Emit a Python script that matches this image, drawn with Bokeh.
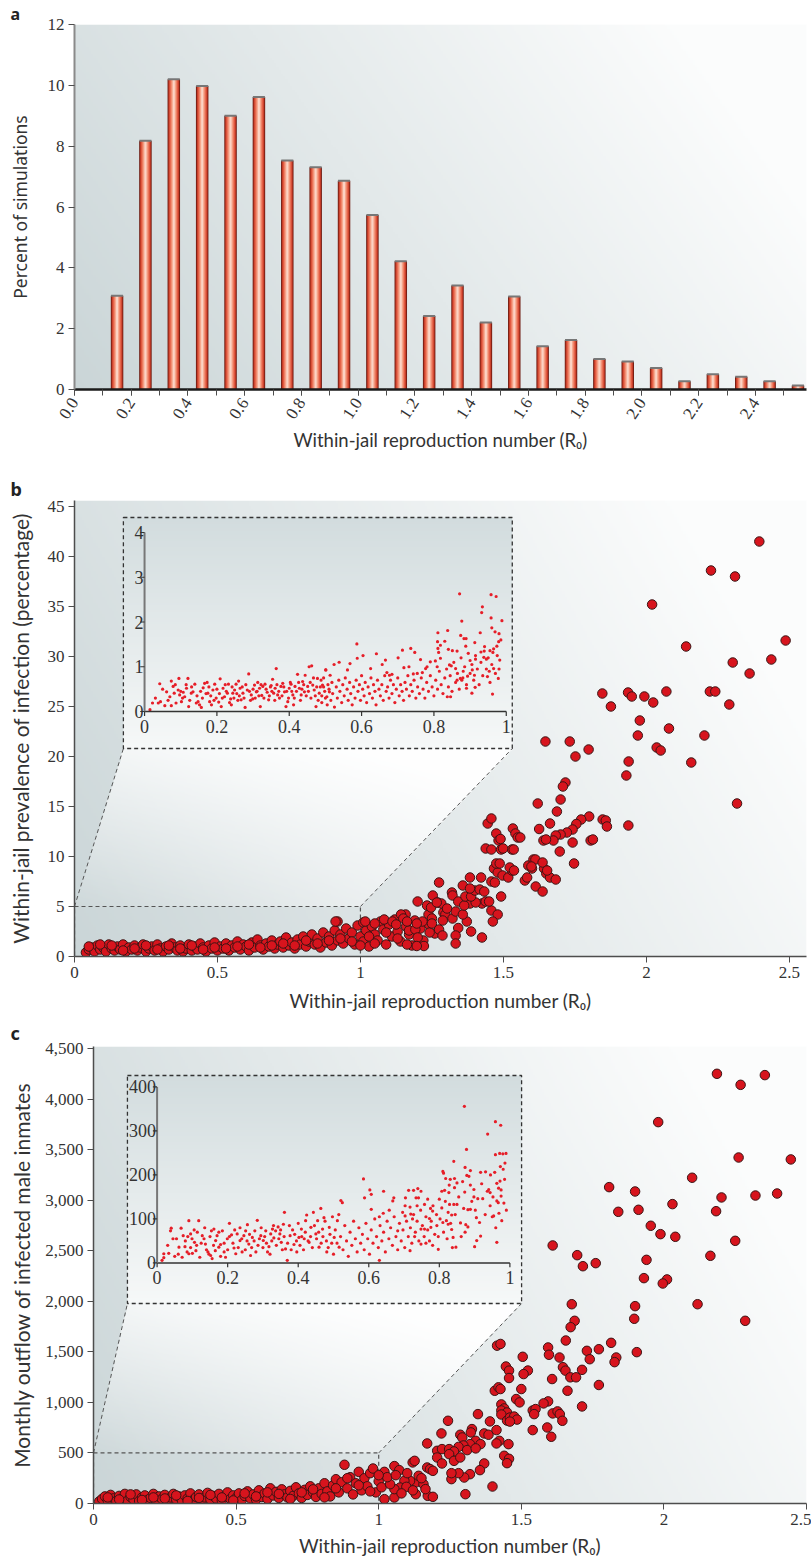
import numpy as np
from bokeh.plotting import figure
from bokeh.layouts import column
from bokeh.models import Range1d, FixedTicker, Title, NumeralTickFormatter
from bokeh.core.properties import value
from bokeh.embed import file_html
from bokeh.resources import INLINE

# ---------------- data ----------------
hist_r0 = [0.15, 0.25, 0.35, 0.45, 0.55, 0.65, 0.75, 0.85, 0.95, 1.05, 1.15, 1.25, 1.35,
           1.45, 1.55, 1.65, 1.75, 1.85, 1.95, 2.05, 2.15, 2.25, 2.35, 2.45, 2.55]
hist_pct = [3.08, 8.18, 10.2, 9.98, 9.0, 9.62, 7.53, 7.31, 6.86, 5.74, 4.22, 2.42, 3.42,
            2.2, 3.06, 1.42, 1.63, 1.0, 0.92, 0.71, 0.27, 0.5, 0.42, 0.27, 0.13]
a_xticks = [0.0, 0.2, 0.4, 0.6, 0.8, 1.0, 1.2, 1.4, 1.6, 1.8, 2.0, 2.2, 2.4]
a_xtick_labels = ["0.0", "0.2", "0.4", "0.6", "0.8", "1.0", "1.2", "1.4", "1.6", "1.8", "2.0", "2.2", "2.4"]
a_yticks = [0, 2, 4, 6, 8, 10, 12]

r0_ticks = [0, 0.5, 1, 1.5, 2, 2.5]
r0_tick_labels = ["0", "0.5", "1", "1.5", "2", "2.5"]
b_yticks = [0, 5, 10, 15, 20, 25, 30, 35, 40, 45]
c_yticks = [0, 500, 1000, 1500, 2000, 2500, 3000, 3500, 4000, 4500]
inset_xticks = [0, 0.2, 0.4, 0.6, 0.8, 1]
inset_xtick_labels = ["0", "0.2", "0.4", "0.6", "0.8", "1"]
b_inset_yticks = [0, 1, 2, 3, 4]
c_inset_yticks = [0, 100, 200, 300, 400]

# panel b, main scatter: (R0, prevalence %)
b_main_pts = [
    (0.04, 0.4), (0.05, 0.7), (0.06, 0.9), (0.07, 0.5), (0.08, 1.1), (0.09, 0.7), (0.10, 0.9), (0.11, 0.5), (0.12, 1.2), (0.13, 0.8),
    (0.14, 0.6), (0.15, 1.0), (0.16, 0.7), (0.17, 1.2), (0.18, 0.5), (0.19, 0.9), (0.20, 0.7), (0.21, 1.1), (0.22, 0.6), (0.23, 0.9),
    (0.24, 1.2), (0.25, 0.5), (0.26, 0.8), (0.27, 1.0), (0.28, 0.6), (0.29, 1.2), (0.30, 0.8), (0.31, 0.5), (0.32, 1.0), (0.33, 0.7),
    (0.34, 1.3), (0.35, 0.9), (0.36, 0.6), (0.37, 1.1), (0.38, 0.5), (0.39, 0.8), (0.40, 1.2), (0.41, 0.6), (0.42, 1.0), (0.43, 0.7),
    (0.44, 1.3), (0.45, 0.9), (0.46, 0.5), (0.47, 1.1), (0.48, 0.8), (0.49, 1.4), (0.50, 0.6), (0.51, 1.0), (0.52, 0.8), (0.53, 1.3),
    (0.54, 0.6), (0.55, 1.1), (0.56, 0.9), (0.57, 1.5), (0.58, 0.7), (0.59, 1.2), (0.60, 1.0), (0.61, 0.6), (0.62, 1.4), (0.63, 0.9),
    (0.64, 1.7), (0.65, 1.1), (0.66, 0.7), (0.67, 1.3), (0.68, 1.0), (0.69, 1.6), (0.70, 0.8), (0.71, 1.2), (0.72, 1.5), (0.73, 0.9),
    (0.74, 1.9), (0.75, 1.1), (0.76, 1.4), (0.77, 0.8), (0.78, 1.7), (0.79, 1.2), (0.80, 2.0), (0.81, 1.0), (0.82, 1.5), (0.83, 2.2),
    (0.84, 1.2), (0.85, 1.8), (0.86, 0.9), (0.87, 2.4), (0.88, 1.4), (0.89, 2.0), (0.90, 1.1), (0.91, 2.6), (0.92, 3.5), (0.92, 1.6),
    (0.93, 2.2), (0.94, 1.3), (0.95, 2.8), (0.96, 1.8), (0.97, 2.4), (0.98, 1.2), (0.99, 3.1), (1.00, 2.0), (1.01, 1.5), (1.01, 3.4),
    (1.02, 2.6), (1.03, 1.0), (1.04, 3.0), (1.05, 2.2), (1.06, 1.6), (1.07, 3.5), (1.08, 2.7), (1.09, 1.2), (1.10, 3.2), (1.11, 2.0),
    (1.12, 3.7), (1.13, 2.5), (1.14, 1.5), (1.15, 4.1), (1.16, 3.0), (1.17, 2.2), (1.18, 1.1), (1.19, 3.6), (1.21, 2.8), (1.22, 1.6),
    (1.24, 3.2), (1.26, 2.3), (1.27, 5.4), (1.29, 4.4),
    (0.05, 1.0), (0.09, 1.2), (0.13, 1.1), (0.17, 0.6), (0.21, 0.8), (0.25, 1.1), (0.29, 0.7), (0.33, 1.1), (0.37, 0.8), (0.41, 1.1),
    (0.45, 0.7), (0.49, 0.9), (0.53, 0.8), (0.57, 1.0), (0.61, 1.2), (0.65, 0.9), (0.69, 1.1), (0.73, 1.3), (0.77, 1.1), (0.81, 1.6),
    (0.85, 1.3), (0.89, 1.6), (0.93, 1.8), (0.97, 1.5), (1.00, 1.1), (1.03, 2.0), (1.05, 1.3), (1.09, 2.4), (1.13, 1.8), (1.17, 2.6),
    (1.158, 4.2), (1.142, 4.2), (1.15, 3.8), (1.163, 3.5), (1.192, 2.7), (1.20, 1.9), (1.222, 1.05), (1.197, 1.05), (1.163, 1.2), (1.242, 2.4),
    (1.017, 3.5), (1.05, 3.3), (1.083, 3.7), (1.112, 3.5), (1.125, 3.2), (0.913, 3.5), (1.238, 4.2), (1.25, 3.8), (1.217, 3.5), (1.197, 3.3),
    (1.25, 3.3), (1.275, 2.7), (1.287, 2.1), (1.342, 2.85), (1.333, 2.1), (1.387, 2.5), (1.425, 1.9), (1.333, 1.3), (1.297, 4.2), (1.288, 3.6),
    (1.322, 3.8), (1.372, 3.5), (1.333, 4.5), (1.358, 4.2), (1.458, 4.6), (1.48, 4.2), (1.463, 3.5), (1.492, 6.0), (1.425, 5.3), (1.383, 5.3),
    (1.403, 5.4), (1.438, 5.5), (1.45, 5.5), (1.283, 5.3), (1.303, 4.8), (1.233, 5.1), (1.247, 4.9), (1.20, 5.5), (1.253, 6.1), (1.267, 5.4),
    (1.32, 6.4), (1.322, 6.1), (1.342, 5.5), (1.363, 5.1), (1.367, 6.0), (1.387, 6.0), (1.40, 6.6), (1.417, 6.7), (1.433, 6.5), (1.458, 7.5),
    (1.47, 7.4), (1.358, 7.1), (1.383, 6.8), (1.275, 7.4), (1.383, 7.9), (1.422, 7.9), (1.467, 8.8), (1.48, 8.4), (1.497, 8.1), (1.517, 7.9),
    (1.53, 8.6), (1.475, 9.3), (1.487, 9.3), (1.587, 9.1), (1.60, 8.8), (1.605, 9.7), (1.575, 7.6), (1.583, 7.9), (1.613, 7.0), (1.637, 6.5),
    (1.642, 8.8), (1.65, 8.3), (1.663, 7.9), (1.683, 7.7), (1.438, 10.8), (1.458, 10.7), (1.492, 10.7), (1.53, 10.7), (1.475, 12.3), (1.483, 11.6),
    (1.533, 12.8), (1.542, 12.3), (1.55, 11.9), (1.445, 13.3), (1.458, 13.8), (1.697, 10.5), (1.747, 9.3), (1.742, 11.4), (1.805, 11.6), (1.80, 14.0),
    (1.772, 13.7), (1.755, 13.25), (1.742, 12.7), (1.722, 12.4), (1.70, 12.2), (1.683, 12.1), (1.847, 13.7), (1.858, 13.6), (1.862, 13.0), (1.62, 15.3),
    (1.687, 14.5), (1.663, 13.3), (1.625, 12.75), (1.64, 11.6), (1.675, 11.6), (1.717, 17.4), (1.708, 17.0), (1.70, 15.7), (1.93, 18.1), (2.317, 15.3),
    (1.937, 13.1), (2.395, 41.5), (2.226, 38.6), (2.31, 38.0), (2.02, 35.2), (2.139, 31.0), (2.487, 31.6), (2.302, 29.4), (2.437, 29.7), (2.361, 28.3),
    (1.846, 26.3), (1.936, 26.4), (1.949, 26.0), (1.993, 26.0), (2.024, 25.4), (2.07, 26.5), (2.222, 26.5), (2.241, 26.5), (1.876, 25.0), (2.29, 25.2),
    (1.977, 23.6), (2.079, 22.8), (1.97, 22.1), (2.203, 22.1), (2.036, 20.9), (2.05, 20.6), (1.938, 19.5), (2.157, 19.4), (1.647, 21.5), (1.732, 21.5),
    (1.798, 20.7), (1.752, 20.0), (1.499, 10.8), (1.49, 11.75), (1.536, 10.7), (1.522, 8.9), (1.537, 8.6), (1.612, 9.7), (1.598, 9.0), (1.637, 9.4),
    (1.653, 8.6), (1.813, 11.7), (1.649, 11.7), (1.559, 11.9),
]

# panel b, inset (R0 < 1): (R0, prevalence %)
b_inset_pts = [
    (0.015, 0.04), (0.022, 0.19), (0.038, 0.19), (0.044, 0.22), (0.042, 0.62), (0.056, 0.13), (0.061, 0.44), (0.07, 0.33), (0.074, 0.13), (0.074, 0.68),
    (0.079, 0.56), (0.082, 0.41), (0.087, 0.19), (0.095, 0.74), (0.093, 0.48), (0.097, 0.37), (0.102, 0.22), (0.107, 0.43), (0.111, 0.33), (0.116, 0.52),
    (0.12, 0.74), (0.122, 0.11), (0.129, 0.41), (0.134, 0.44), (0.139, 0.61), (0.143, 0.19), (0.148, 0.22), (0.152, 0.15), (0.157, 0.09), (0.162, 0.53),
    (0.166, 0.63), (0.173, 0.65), (0.175, 0.41), (0.18, 0.22), (0.185, 0.15), (0.189, 0.48), (0.194, 0.61), (0.198, 0.30), (0.205, 0.21), (0.209, 0.73),
    (0.212, 0.11), (0.217, 0.52), (0.221, 0.33), (0.229, 0.41), (0.232, 0.61), (0.238, 0.28), (0.24, 0.15), (0.244, 0.41), (0.249, 0.48), (0.253, 0.61),
    (0.26, 0.68), (0.264, 0.52), (0.267, 0.26), (0.272, 0.41), (0.278, 0.09), (0.284, 0.48), (0.288, 0.84), (0.295, 0.37), (0.299, 0.28), (0.304, 0.59),
    (0.309, 0.44), (0.313, 0.65), (0.318, 0.52), (0.32, 0.11), (0.324, 0.36), (0.327, 0.56), (0.333, 0.61), (0.339, 0.43), (0.343, 0.26), (0.35, 0.58),
    (0.354, 0.72), (0.357, 0.41), (0.361, 0.52), (0.364, 0.96), (0.368, 0.37), (0.373, 0.30), (0.377, 0.56), (0.382, 0.63), (0.387, 0.44), (0.391, 0.11),
    (0.396, 0.22), (0.4, 0.52), (0.405, 0.61), (0.41, 0.37), (0.412, 0.15), (0.416, 0.56), (0.423, 0.83), (0.428, 0.52), (0.433, 0.37), (0.437, 0.67),
    (0.442, 0.44), (0.444, 0.81), (0.451, 0.56), (0.455, 1.0), (0.462, 1.02), (0.465, 0.59), (0.469, 0.48), (0.474, 0.11), (0.478, 0.74), (0.483, 0.41),
    (0.488, 0.70), (0.492, 0.59), (0.501, 0.93), (0.504, 0.33), (0.511, 0.44), (0.513, 0.81),
    (0.03, 0.3), (0.05, 0.5), (0.065, 0.25), (0.085, 0.6), (0.1, 0.45), (0.105, 0.3), (0.115, 0.6), (0.125, 0.25), (0.13, 0.55), (0.145, 0.35),
    (0.155, 0.45), (0.16, 0.3), (0.17, 0.4), (0.178, 0.55), (0.183, 0.35), (0.192, 0.25), (0.2, 0.5), (0.207, 0.4), (0.215, 0.3), (0.223, 0.6),
    (0.226, 0.45), (0.235, 0.2), (0.242, 0.55), (0.247, 0.3), (0.255, 0.4), (0.258, 0.25), (0.262, 0.35), (0.27, 0.55), (0.275, 0.3), (0.28, 0.6),
    (0.29, 0.45), (0.293, 0.25), (0.3, 0.5), (0.306, 0.3), (0.311, 0.45), (0.316, 0.35), (0.322, 0.6), (0.33, 0.3), (0.336, 0.5), (0.345, 0.35),
    (0.348, 0.55), (0.352, 0.45), (0.36, 0.25), (0.366, 0.6), (0.371, 0.45), (0.38, 0.35), (0.385, 0.55), (0.393, 0.45), (0.398, 0.3), (0.403, 0.65),
    (0.407, 0.45), (0.414, 0.3), (0.42, 0.45), (0.426, 0.65), (0.431, 0.25), (0.435, 0.5), (0.44, 0.6), (0.447, 0.35), (0.453, 0.45), (0.458, 0.65),
    (0.46, 0.3), (0.467, 0.75), (0.472, 0.35), (0.476, 0.55), (0.48, 0.25), (0.486, 0.55), (0.49, 0.35), (0.495, 0.75), (0.498, 0.45), (0.507, 0.6),
    (0.49, 0.2), (0.495, 0.55), (0.5, 0.3), (0.505, 0.15), (0.51, 0.5), (0.515, 0.25), (0.518, 0.65), (0.52, 0.4), (0.525, 0.1), (0.53, 0.55),
    (0.533, 0.3), (0.537, 0.7), (0.54, 0.45), (0.545, 0.2), (0.548, 0.6), (0.552, 0.35), (0.555, 0.75), (0.56, 0.5), (0.563, 0.25), (0.567, 0.65),
    (0.57, 0.4), (0.574, 0.15), (0.578, 0.55), (0.582, 0.3), (0.585, 0.7), (0.59, 0.45), (0.594, 0.6), (0.597, 0.25), (0.6, 0.8), (0.603, 0.5),
    (0.607, 0.35), (0.61, 0.65), (0.614, 0.2), (0.618, 0.55), (0.622, 0.4), (0.626, 0.75), (0.63, 0.3), (0.633, 0.6), (0.637, 0.45), (0.64, 0.15),
    (0.644, 0.7), (0.648, 0.5), (0.652, 0.35), (0.656, 0.6), (0.66, 0.25), (0.664, 0.8), (0.668, 0.45), (0.672, 0.55), (0.676, 0.3), (0.68, 0.7),
    (0.684, 0.4), (0.688, 0.6), (0.692, 0.2), (0.696, 0.5), (0.7, 0.75), (0.704, 0.35), (0.708, 0.6), (0.712, 0.45), (0.716, 0.25), (0.72, 0.65),
    (0.724, 0.5), (0.728, 0.8), (0.732, 0.35), (0.736, 0.6), (0.74, 0.45), (0.745, 0.7), (0.75, 0.3), (0.755, 0.55), (0.76, 0.4), (0.765, 0.75),
    (0.77, 0.5), (0.775, 0.3), (0.78, 0.65), (0.785, 0.45), (0.79, 0.8), (0.795, 0.55), (0.8, 0.35), (0.805, 0.7), (0.81, 0.5), (0.815, 0.9),
    (0.82, 0.6), (0.825, 0.4), (0.83, 0.75), (0.835, 0.95), (0.84, 0.55), (0.845, 0.8), (0.85, 0.45), (0.855, 1.1), (0.86, 0.65), (0.865, 0.85),
    (0.87, 0.5), (0.875, 1.2), (0.88, 0.75), (0.885, 1.0), (0.89, 0.6), (0.895, 1.3), (0.9, 0.85), (0.905, 1.05), (0.91, 0.7), (0.915, 1.25),
    (0.92, 0.95), (0.925, 0.6), (0.93, 1.1), (0.935, 0.8), (0.94, 1.45), (0.945, 0.95), (0.95, 1.2), (0.955, 0.65), (0.96, 1.05), (0.965, 1.4),
    (0.97, 0.85), (0.975, 1.25), (0.98, 0.95), (0.985, 1.6),
    (0.871, 2.63), (0.958, 2.61), (0.972, 2.57), (0.934, 2.34), (0.932, 2.21), (0.988, 2.03), (0.958, 2.09), (0.877, 2.02), (0.838, 1.81), (0.811, 1.76),
    (0.928, 1.76), (0.96, 1.87), (0.969, 1.78), (0.98, 1.74), (0.979, 1.56), (0.974, 1.46), (0.874, 1.70), (0.883, 1.63), (0.889, 1.63), (0.888, 1.46),
    (0.81, 1.56), (0.83, 1.57), (0.913, 1.54), (0.587, 1.51), (0.84, 1.39), (0.818, 1.48), (0.811, 1.41), (0.851, 1.36), (0.864, 1.35), (0.9, 1.14),
    (0.915, 1.17), (0.93, 1.33), (0.939, 1.35), (0.938, 1.21), (0.945, 1.17), (0.955, 1.36), (0.963, 1.32), (0.982, 1.15), (0.965, 0.96), (0.953, 0.9),
    (0.948, 0.78), (0.978, 0.74), (0.962, 0.39), (0.914, 0.54), (0.905, 0.41), (0.906, 0.93), (0.912, 0.81), (0.893, 0.79), (0.881, 0.90), (0.877, 0.70),
    (0.864, 0.70), (0.873, 0.74), (0.86, 0.96), (0.89, 0.52), (0.837, 0.33), (0.846, 0.33), (0.818, 1.19), (0.843, 1.04), (0.848, 1.02), (0.813, 1.32),
    (0.804, 1.13), (0.809, 1.0), (0.79, 1.11), (0.763, 1.16), (0.777, 0.96), (0.781, 1.0), (0.768, 0.87), (0.754, 0.85), (0.743, 0.84), (0.736, 1.41),
    (0.747, 1.32), (0.713, 1.37), (0.701, 1.2), (0.731, 1.0), (0.717, 0.98), (0.67, 0.87), (0.677, 0.81), (0.684, 0.83), (0.657, 1.05), (0.666, 1.15),
    (0.641, 1.29), (0.625, 0.96), (0.604, 1.25), (0.588, 1.19), (0.568, 1.07), (0.561, 0.93), (0.538, 1.1), (0.524, 1.05), (0.501, 0.93),
]

# panel c, main scatter: (R0, monthly outflow)
c_main_pts = [
    (0.02, 20), (0.03, 45), (0.04, 70), (0.05, 30), (0.06, 85), (0.07, 50), (0.08, 25), (0.09, 75), (0.10, 45), (0.11, 95),
    (0.12, 30), (0.13, 65), (0.14, 40), (0.15, 90), (0.16, 25), (0.17, 60), (0.18, 80), (0.19, 35), (0.20, 55), (0.21, 95),
    (0.22, 30), (0.23, 70), (0.24, 45), (0.25, 85), (0.26, 25), (0.27, 60), (0.28, 95), (0.29, 40), (0.30, 70), (0.31, 30),
    (0.32, 80), (0.33, 50), (0.34, 100), (0.35, 35), (0.36, 65), (0.37, 90), (0.38, 25), (0.39, 60), (0.40, 105), (0.41, 40),
    (0.42, 75), (0.43, 50), (0.44, 95), (0.45, 30), (0.46, 70), (0.47, 110), (0.48, 45), (0.49, 80), (0.50, 55), (0.51, 100),
    (0.52, 35), (0.53, 75), (0.54, 120), (0.55, 50), (0.56, 90), (0.57, 40), (0.58, 130), (0.59, 65), (0.60, 100), (0.61, 45),
    (0.62, 150), (0.63, 80), (0.64, 115), (0.65, 55), (0.66, 140), (0.67, 90), (0.68, 60), (0.69, 125), (0.70, 75), (0.71, 160),
    (0.72, 100), (0.73, 55), (0.74, 135), (0.75, 85), (0.76, 170), (0.77, 110), (0.78, 65), (0.79, 150), (0.80, 95), (0.81, 200),
    (0.82, 120), (0.83, 70), (0.84, 180), (0.85, 240), (0.86, 110), (0.87, 210), (0.88, 383), (0.89, 150), (0.90, 260), (0.91, 90),
    (0.92, 200), (0.93, 313), (0.94, 130), (0.95, 250), (0.96, 170), (0.97, 300), (0.98, 346), (0.99, 110), (1.00, 220), (1.01, 160),
    (0.05, 60), (0.09, 40), (0.13, 90), (0.17, 35), (0.21, 60), (0.25, 50), (0.29, 80), (0.33, 25), (0.37, 55), (0.41, 85),
    (0.45, 60), (0.49, 30), (0.53, 100), (0.57, 70), (0.61, 110), (0.65, 95), (0.69, 45), (0.73, 110), (0.77, 140), (0.81, 60),
    (0.85, 150), (0.89, 250), (0.93, 180), (0.97, 120),
    (1.02, 313), (1.055, 370), (1.072, 330), (1.119, 406), (1.126, 422), (1.02, 43), (1.055, 59), (1.13, 92), (1.172, 76), (1.17, 356),
    (1.18, 340), (1.19, 323), (1.13, 208), (1.14, 274), (1.11, 224), (1.09, 224), (1.075, 158), (1.097, 165), (1.055, 142), (1.04, 191),
    (1.157, 191), (1.164, 142), (1.19, 66), (1.03, 260), (1.06, 280), (1.08, 100), (1.10, 300), (1.12, 130), (1.15, 250), (1.0, 280),
    (2.186, 4250), (2.269, 4141), (2.354, 4237), (1.98, 3772), (2.262, 3422), (2.445, 3403), (2.099, 3222), (1.808, 3129), (1.899, 3086), (2.202, 3027),
    (2.321, 3046), (2.397, 3066), (1.84, 2885), (1.911, 2905), (2.03, 2961), (2.183, 2891), (1.954, 2747), (1.988, 2664), (2.04, 2638), (2.25, 2598),
    (2.163, 2450), (1.61, 2552), (1.696, 2456), (1.716, 2347), (1.761, 2377), (1.939, 2410), (1.93, 2229), (2.011, 2216), (1.996, 2176), (2.118, 1971),
    (2.285, 1807), (1.899, 1952), (1.896, 1827), (1.677, 1971), (1.687, 1807), (1.673, 1744), (1.656, 1612), (1.594, 1543), (1.597, 1471), (1.634, 1444),
    (1.73, 1510), (1.74, 1427), (1.772, 1526), (1.815, 1589), (1.833, 1444), (1.827, 1398), (1.905, 1497), (1.505, 1451), (1.415, 1561), (1.446, 1355),
    (1.646, 1348), (1.713, 1322), (1.523, 1315), (1.427, 1578), (1.457, 1314), (1.457, 1241), (1.508, 1280), (1.608, 1231), (1.655, 1314), (1.672, 1248),
    (1.692, 1248), (1.662, 1115), (1.772, 1172), (1.713, 960), (1.407, 1115), (1.420, 1149), (1.427, 1132), (1.50, 1132), (1.482, 1033), (1.494, 1000),
    (1.594, 1010), (1.578, 990), (1.43, 980), (1.44, 940), (1.43, 920), (1.45, 900), (1.43, 880), (1.45, 820), (1.46, 850), (1.475, 860),
    (1.485, 830), (1.46, 810), (1.54, 920), (1.55, 934), (1.545, 884), (1.61, 891), (1.627, 911), (1.635, 884), (1.591, 752), (1.644, 818),
    (1.54, 726), (1.605, 660), (1.348, 884), (1.39, 812), (1.243, 818), (1.327, 736), (1.323, 703), (1.286, 680), (1.293, 653), (1.22, 693),
    (1.17, 594), (1.37, 693), (1.385, 680), (1.413, 726), (1.423, 620), (1.413, 594), (1.455, 587), (1.34, 620), (1.357, 587), (1.32, 587),
    (1.297, 574), (1.28, 560), (1.31, 528), (1.34, 545), (1.205, 521), (1.222, 538), (1.247, 538), (1.264, 515), (1.205, 455), (1.222, 396),
    (1.247, 488), (1.264, 422), (1.286, 455), (1.44, 472), (1.457, 442), (1.45, 399), (1.37, 396), (1.355, 330), (1.32, 290), (1.3, 257),
    (1.399, 168), (1.304, 92), (1.255, 241), (1.28, 300), (1.255, 300),
]

# panel c, inset (R0 < 1): (R0, monthly outflow)
c_inset_pts = [
    (0.014, 6), (0.019, 12), (0.019, 21), (0.033, 22), (0.04, 79), (0.038, 73), (0.05, 15), (0.055, 55), (0.062, 36), (0.068, 79),
    (0.071, 13), (0.074, 62), (0.079, 37), (0.085, 25), (0.09, 21), (0.1, 22), (0.09, 96), (0.087, 60), (0.095, 66), (0.099, 55),
    (0.106, 47), (0.112, 40), (0.118, 96), (0.114, 70), (0.121, 13), (0.128, 62), (0.133, 55), (0.137, 43), (0.144, 25), (0.152, 17),
    (0.156, 10), (0.147, 20), (0.154, 73), (0.161, 77), (0.166, 51), (0.17, 62), (0.175, 36), (0.18, 42), (0.185, 73), (0.19, 25),
    (0.194, 13), (0.199, 55), (0.205, 90), (0.211, 64), (0.218, 34), (0.223, 21), (0.227, 66), (0.235, 51), (0.241, 25), (0.246, 62),
    (0.251, 73), (0.256, 87), (0.26, 43), (0.265, 17), (0.27, 58), (0.277, 73), (0.284, 97), (0.286, 40), (0.294, 62), (0.301, 51),
    (0.308, 73), (0.313, 25), (0.317, 37), (0.322, 66), (0.327, 77), (0.331, 57), (0.336, 73), (0.343, 82), (0.348, 66), (0.352, 47),
    (0.358, 88), (0.361, 115), (0.364, 32), (0.369, 6), (0.377, 62), (0.384, 75), (0.388, 42), (0.396, 25), (0.402, 58), (0.409, 77),
    (0.417, 55), (0.421, 96), (0.424, 109), (0.431, 47), (0.436, 81), (0.443, 115), (0.45, 66), (0.455, 96), (0.459, 36), (0.464, 124),
    (0.469, 77), (0.473, 103), (0.481, 25), (0.488, 81), (0.497, 105), (0.502, 58), (0.511, 96), (0.516, 36),
    (0.03, 40), (0.045, 55), (0.06, 20), (0.08, 50), (0.095, 35), (0.105, 75), (0.11, 28), (0.125, 45), (0.135, 80), (0.14, 30),
    (0.15, 60), (0.16, 40), (0.165, 28), (0.175, 70), (0.18, 15), (0.19, 45), (0.2, 30), (0.205, 60), (0.215, 45), (0.22, 75),
    (0.23, 35), (0.235, 80), (0.24, 55), (0.25, 30), (0.255, 50), (0.262, 65), (0.268, 35), (0.275, 50), (0.28, 25), (0.29, 55),
    (0.295, 80), (0.3, 35), (0.305, 60), (0.31, 45), (0.32, 20), (0.325, 50), (0.33, 85), (0.338, 40), (0.345, 55), (0.35, 75),
    (0.355, 30), (0.36, 60), (0.37, 45), (0.375, 85), (0.38, 30), (0.39, 65), (0.395, 50), (0.4, 90), (0.405, 40), (0.41, 60),
    (0.415, 30), (0.42, 70), (0.428, 50), (0.435, 60), (0.44, 35), (0.446, 85), (0.452, 55), (0.458, 70), (0.465, 45), (0.47, 60),
    (0.476, 95), (0.48, 50), (0.485, 35), (0.49, 65), (0.495, 45),
    (0.871, 356), (0.959, 321), (0.974, 313), (0.937, 293), (0.877, 258), (0.841, 231), (0.959, 246), (0.971, 249), (0.98, 248), (0.989, 249),
    (0.986, 227), (0.981, 213), (0.973, 219), (0.873, 217), (0.878, 199), (0.888, 210), (0.884, 197), (0.81, 208), (0.812, 204), (0.917, 206),
    (0.931, 207), (0.957, 206), (0.818, 192), (0.831, 190), (0.843, 192), (0.85, 182), (0.828, 177), (0.843, 171), (0.815, 165), (0.872, 161),
    (0.888, 177), (0.898, 167), (0.936, 163), (0.94, 167), (0.944, 160), (0.963, 181), (0.972, 186), (0.975, 166), (0.975, 152), (0.967, 137),
    (0.983, 136), (0.898, 150), (0.909, 146), (0.923, 146), (0.944, 130), (0.963, 141), (0.969, 113), (0.954, 107), (0.95, 105), (0.977, 96),
    (0.963, 47), (0.917, 61), (0.9, 37), (0.906, 51), (0.869, 124), (0.881, 121), (0.888, 122), (0.905, 103), (0.914, 92), (0.875, 87),
    (0.881, 82), (0.86, 91), (0.873, 70), (0.829, 133), (0.841, 133), (0.85, 133), (0.807, 163), (0.8, 145), (0.825, 115), (0.835, 109),
    (0.82, 96), (0.825, 88), (0.835, 76), (0.839, 58), (0.837, 35), (0.847, 36), (0.797, 31), (0.81, 92), (0.793, 85), (0.775, 124),
    (0.781, 118), (0.772, 101), (0.758, 133), (0.767, 145), (0.734, 148), (0.741, 148), (0.727, 165), (0.748, 163), (0.737, 130), (0.713, 165),
    (0.739, 169), (0.704, 148), (0.671, 148), (0.668, 141), (0.703, 130), (0.717, 127), (0.696, 115), (0.703, 107), (0.719, 111), (0.724, 100),
    (0.748, 77), (0.758, 77), (0.776, 81), (0.73, 60), (0.748, 43), (0.762, 45), (0.781, 40), (0.717, 28), (0.682, 73), (0.642, 163),
    (0.658, 120), (0.641, 113), (0.63, 105), (0.607, 122), (0.588, 148), (0.607, 156), (0.585, 191), (0.603, 166), (0.521, 142), (0.525, 137),
    (0.63, 6),
    (0.5, 20), (0.505, 75), (0.51, 45), (0.515, 110), (0.52, 60), (0.527, 30), (0.532, 85), (0.537, 50), (0.542, 15), (0.547, 70),
    (0.552, 40), (0.557, 95), (0.562, 55), (0.567, 25), (0.572, 80), (0.577, 45), (0.582, 65), (0.587, 30), (0.592, 90), (0.597, 55),
    (0.602, 20), (0.607, 75), (0.612, 45), (0.617, 100), (0.622, 60), (0.627, 35), (0.632, 85), (0.637, 50), (0.642, 70), (0.647, 25),
    (0.652, 95), (0.657, 55), (0.662, 80), (0.667, 40), (0.672, 105), (0.677, 60), (0.682, 30), (0.687, 90), (0.692, 50), (0.697, 75),
    (0.702, 35), (0.707, 95), (0.712, 60), (0.718, 80), (0.722, 45), (0.727, 110), (0.732, 70), (0.737, 95), (0.742, 50), (0.747, 120),
    (0.752, 85), (0.757, 60), (0.762, 105), (0.767, 75), (0.772, 50), (0.777, 95), (0.782, 130), (0.787, 65), (0.792, 110), (0.797, 60),
    (0.802, 100), (0.807, 125), (0.812, 70), (0.817, 140), (0.822, 55), (0.827, 160), (0.832, 90), (0.845, 110), (0.855, 150), (0.862, 60),
    (0.866, 185), (0.892, 140), (0.902, 120), (0.92, 180), (0.93, 110), (0.945, 200), (0.952, 150), (0.96, 80), (0.968, 170), (0.985, 190),
    (0.99, 120),
]

# ---------------- style ----------------
TICK_FONT = "Liberation Sans Narrow"
TITLE_FONT = "Lato"
AX = "#4d4d4d"
TXT = "#333333"
R0_TITLE = "Within-jail reproduction number (R\u2080)"


def gradient(nx, ny, c0, c1, wx, wy):
    u = np.linspace(0, 1, nx)[None, :]
    v = np.linspace(0, 1, ny)[:, None]
    t = np.clip(wx * u + wy * v, 0, 1)
    img = np.zeros((ny, nx), dtype=np.uint32)
    view = img.view(dtype=np.uint8).reshape((ny, nx, 4))
    for k in range(3):
        view[:, :, k] = np.round(c0[k] + (c1[k] - c0[k]) * t).astype(np.uint8)
    view[:, :, 3] = 255
    return img


def beam_image(l, r, nx=500, ny=200):
    # white, semi-transparent trapezoid from the zoom rectangle (x 0..1) up to the inset box (x l..r)
    u = (np.arange(nx)[None, :] + 0.5) / nx * r
    f = (np.arange(ny)[:, None] + 0.5) / ny
    xl = l * f
    xr = 1 + (r - 1) * f
    inside = (u >= xl) & (u <= xr)
    h = np.clip((u - xl) / (xr - xl), 0, 1)
    a = np.clip(0.05 + 0.7 * f + 0.35 * h, 0, 0.95)
    img = np.zeros((ny, nx), dtype=np.uint32)
    view = img.view(dtype=np.uint8).reshape((ny, nx, 4))
    view[:, :, 0] = 255
    view[:, :, 1] = 255
    view[:, :, 2] = 255
    view[:, :, 3] = np.where(inside, np.round(a * 255), 0).astype(np.uint8)
    return img


def make_fig(xr, yr, height, left, top, bottom):
    p = figure(width=811, height=height, x_range=Range1d(*xr), y_range=Range1d(*yr),
               output_backend="svg", toolbar_location=None,
               min_border_left=left, min_border_right=5, min_border_top=top, min_border_bottom=bottom)
    p.frame_align = False
    p.grid.visible = False
    p.outline_line_color = None
    p.background_fill_color = "white"
    p.image_rgba(image=[gradient(320, 160, (202, 213, 215), (251, 252, 252), 0.85, 0.3)],
                 x=xr[0], y=yr[0], dw=xr[1] - xr[0], dh=yr[1] - yr[0])
    for ax in (p.xaxis[0], p.yaxis[0]):
        ax.axis_line_color = AX
        ax.axis_line_width = 1.5
        ax.major_tick_line_color = AX
        ax.major_tick_out = 6
        ax.major_tick_in = 0
        ax.minor_tick_line_color = None
        ax.major_label_text_font = TICK_FONT
        ax.major_label_text_font_size = "17px"
        ax.major_label_text_color = TXT
        ax.major_label_standoff = 4
        ax.axis_label_text_font = TITLE_FONT
        ax.axis_label_text_font_size = "19px"
        ax.axis_label_text_font_style = "normal"
        ax.axis_label_text_color = TXT
    p.yaxis.axis_label_text_font_size = "21px"
    return p


def panel_letter(p, letter, offset, size="18px", valign="bottom"):
    t = Title(text=letter, align="left", offset=offset, standoff=0, vertical_align=valign,
              text_font="Noto Sans", text_font_style="bold", text_font_size=size,
              text_color="#222222")
    p.add_layout(t, "above")


# ---------------- panel a ----------------
pa = make_fig((0, 2.58), (0, 12), 470, 74, 23, 81)
pa.xaxis.ticker = FixedTicker(ticks=a_xticks, minor_ticks=[round(0.1 * i, 1) for i in range(26)])
pa.xaxis.major_label_overrides = dict(zip(a_xticks, a_xtick_labels))
pa.xaxis.major_label_orientation = 1.0
pa.xaxis.minor_tick_line_color = AX
pa.xaxis.minor_tick_out = 6
pa.xaxis.minor_tick_in = 0
pa.xaxis.axis_line_color = "#1a1a1a"
pa.xaxis.axis_line_width = 2.5
pa.yaxis.ticker = FixedTicker(ticks=a_yticks)
pa.yaxis.axis_line_color = "#8a8a8a"
pa.yaxis.axis_line_width = 2
pa.xaxis.axis_label = R0_TITLE
pa.yaxis.axis_label = "Percent of simulations"
pa.yaxis.axis_label_text_font = "Noto Sans"
pa.yaxis.axis_label_text_font_size = "17.5px"
pa.xaxis.axis_label_text_font_size = "18.5px"
pa.xaxis.axis_label_standoff = 3
pa.yaxis.axis_label_standoff = 13

bar_layers = [(0.044, "#6e1a10"), (0.038, "#c23a26"), (0.031, "#e25a40"), (0.023, "#ee8166"),
              (0.015, "#f6a98f"), (0.007, "#fcd3c4")]
for w, col in bar_layers:
    pa.vbar(x=hist_r0, top=hist_pct, width=w, fill_color=col, line_color=None)
pa.scatter(x=hist_r0, y=hist_pct, marker="dash", size=12, line_color="#777777", line_width=2)
panel_letter(pa, "a", -64, "16px")


# ---------------- insets helper ----------------
def add_inset(p, pts, box, xt, yt, ysrc, zoom_y, yticks, dot_size):
    l, r, btm, top = box
    # beam (zoom projection)
    p.image_rgba(image=[beam_image(l, r)], x=0, y=zoom_y, dw=r, dh=btm - zoom_y)
    p.segment(x0=[0, 1], y0=[zoom_y, zoom_y], x1=[l, r], y1=[btm, btm],
              line_color="#555555", line_dash="4 3", line_width=1)
    p.quad(left=[0], right=[1], bottom=[p.y_range.start], top=[zoom_y], fill_color=None,
           line_color="#555555", line_dash="4 3", line_width=1.2)
    # inset box
    p.image_rgba(image=[gradient(8, 120, (246, 248, 248), (210, 220, 222), 0.0, 1.0)],
                 x=l, y=btm, dw=r - l, dh=top - btm)
    p.quad(left=[l], right=[r], bottom=[btm], top=[top], fill_color=None,
           line_color="#333333", line_dash="4 3", line_width=1.3)
    sub = p.subplot(x_source=Range1d(0, 1), y_source=Range1d(0, ysrc),
                    x_target=Range1d(*xt), y_target=Range1d(*yt))
    sub.scatter(x=[q[0] for q in pts], y=[q[1] for q in pts], size=dot_size, marker="circle",
                fill_color="#e61e28", line_color=None)
    # inset axes
    tick_x = 0.012
    tick_y = ysrc * 0.025
    sub.segment(x0=[inset_xticks[0]], y0=[0], x1=[inset_xticks[-1]], y1=[0], line_color="#333333", line_width=1.6)
    sub.segment(x0=[0], y0=[yticks[0]], x1=[0], y1=[yticks[-1]], line_color="#777777", line_width=2)
    sub.segment(x0=inset_xticks, y0=[0] * len(inset_xticks), x1=inset_xticks, y1=[-tick_y] * len(inset_xticks),
                line_color="#333333", line_width=1.2)
    sub.segment(x0=[0] * len(yticks), y0=yticks, x1=[-tick_x] * len(yticks), y1=yticks,
                line_color="#333333", line_width=1.2)
    sub.text(x=inset_xticks, y=[-ysrc * 0.045] * len(inset_xticks), text=inset_xtick_labels,
             text_align="center", text_baseline="top", text_font=value(TICK_FONT),
             text_font_size="18px", text_color=TXT)
    sub.text(x=[-0.003] * len(yticks), y=yticks, text=[str(v) for v in yticks],
             text_align="right", text_baseline="middle", text_font=value(TICK_FONT),
             text_font_size="18px", text_color=TXT)


# ---------------- panel b ----------------
pb = make_fig((0, 2.56), (0, 45.6), 544, 74, 30, 56)
pb.xaxis.ticker = FixedTicker(ticks=r0_ticks)
pb.xaxis.major_label_overrides = dict(zip(r0_ticks, r0_tick_labels))
pb.yaxis.ticker = FixedTicker(ticks=b_yticks)
pb.xaxis.axis_label = R0_TITLE
pb.yaxis.axis_label = "Within-jail prevalence of infection (percentage)"
pb.xaxis.axis_label_standoff = 8
pb.yaxis.axis_label_standoff = 12
add_inset(pb, b_inset_pts, (0.171, 1.531, 20.8, 43.9), (0.245, 1.51), (24.5, 42.4), 4, 5,
          b_inset_yticks, 3.2)
pb.scatter(x=[q[0] for q in b_main_pts], y=[q[1] for q in b_main_pts], size=9.5,
           fill_color="#d7141d", line_color="#3a1414", line_width=1)
panel_letter(pb, "b", -64)

# ---------------- panel c ----------------
pc = make_fig((0, 2.5), (0, 4520), 548, 93, 32, 59)
pc.xaxis.ticker = FixedTicker(ticks=r0_ticks)
pc.xaxis.major_label_overrides = dict(zip(r0_ticks, r0_tick_labels))
pc.yaxis.ticker = FixedTicker(ticks=c_yticks)
pc.yaxis.formatter = NumeralTickFormatter(format="0,0")
pc.xaxis.axis_label = R0_TITLE
pc.yaxis.axis_label = "Monthly outflow of infected male inmates"
pc.xaxis.axis_label_standoff = 6
pc.yaxis.axis_label_standoff = 8
add_inset(pc, c_inset_pts, (0.119, 1.501, 1978, 4233), (0.223, 1.46), (2379, 4120), 400, 500,
          c_inset_yticks, 3.2)
pc.scatter(x=[q[0] for q in c_main_pts], y=[q[1] for q in c_main_pts], size=9.5,
           fill_color="#d7141d", line_color="#3a1414", line_width=1)
panel_letter(pc, "c", -83, "18px", "top")

layout = column(pa, pb, pc, spacing=0)
open("out.html", "w").write(file_html(layout, INLINE))
